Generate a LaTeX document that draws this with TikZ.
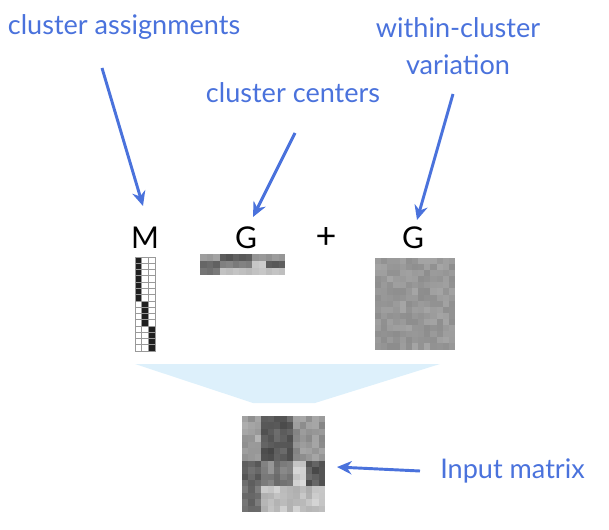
\documentclass[tikz,border=0pt]{standalone}
\usepackage{fontspec}
\setmainfont{Lato}
\usetikzlibrary{arrows.meta}
\definecolor{noteblue}{RGB}{74,114,220}
\definecolor{funnel}{RGB}{221,240,251}
% brightness (in %) of the three cluster centres, column by column
\def\cenA{62,60,64,36,33,38,35,37,58,60,57,61,59}
\def\cenB{40,42,38,50,52,48,51,49,78,80,36,34,37}
\def\cenC{46,44,48,76,74,77,75,73,76,78,74,77,75}
\begin{document}
\begin{tikzpicture}[x=0.75pt,y=-0.75pt]
        \tikzstyle{note}=[text=noteblue, font=\fontsize{20.3}{27.75}\selectfont, inner sep=0pt]
        \tikzstyle{lab}=[font=\fontsize{22.5}{26}\selectfont, inner sep=0pt]
        \tikzstyle{pointer}=[draw=noteblue, line width=2.2pt, -{Stealth[length=11pt,width=10pt]}]
        \tikzstyle{mcell}=[draw=black!40, line width=0.5pt]
            \useasboundingbox (0,0) rectangle (609,530);
            % funnel
            \fill[funnel] (135,364) -- (440,364) -- (315,403) -- (253,403) -- cycle;
            % M : cluster assignments
            \foreach \r in {1,...,15}
                \foreach \c in {1,2,3} {
                    \pgfmathtruncatemacro\k{\r<8 ? 1 : (\r<12 ? 2 : 3)}
                    \ifnum\c=\k \def\mfill{black!88}\else\def\mfill{white}\fi
                    \filldraw[mcell, fill=\mfill] ({135+6.67*(\c-1)},{257+6.27*(\r-1)}) rectangle +(6.67,6.27);
                };
            % G : cluster centres
            \foreach \r/\cen in {1/\cenA,2/\cenB,3/\cenC}
                \foreach \c in {1,...,13} {
                    \pgfmathsetmacro\inv{100-{\cen}[\c-1]}
                    \fill[black!\inv] ({200+6.55*(\c-1)},{254+7*(\r-1)}) rectangle +(6.6,7.05);
                };
            % input matrix and within-cluster variation
            \pgfmathsetseed{42}
            \foreach \r in {1,...,15}
                \foreach \c in {1,...,13} {
                    \ifnum\r<8 \let\crow\cenA \else \ifnum\r<12 \let\crow\cenB \else \let\crow\cenC \fi\fi
                    \pgfmathsetmacro\nz{7*rand}
                    \pgfmathsetmacro\inv{100-{\crow}[\c-1]-\nz}
                    \pgfmathsetmacro\wv{40-0.7*\nz}
                    \fill[black!\inv] ({242+6.4*(\c-1)},{416+6.4*(\r-1)}) rectangle +(6.45,6.45);
                    \fill[black!\wv] ({375+6.15*(\c-1)},{258+6.1*(\r-1)}) rectangle +(6.2,6.15);
                };
            % labels
            \node[lab, anchor=base] (M) at (145,249) {M};
            \node[lab, anchor=base] (Gc) at (246,249) {G};
            \node[lab, anchor=base, font=\fontsize{27}{30}\selectfont] (plus) at (326,249) {+};
            \node[lab, anchor=base] (Gw) at (413,249) {G};
            \node[note, anchor=base] (assign) at (124,35) {cluster assignments};
            \node[note, anchor=base] (centres) at (293,103) {cluster centers};
            \node[note, anchor=north, align=center] (within) at (458,17) {within-cluster\\variation};
            \node[note, anchor=base west] (input) at (440,478) {Input matrix};
            % pointers
            \coordinate (assignS) at (102,68);
            \coordinate (assignE) at (143,206);
            \coordinate (centresS) at (295,133);
            \coordinate (centresE) at (253,217);
            \coordinate (withinS) at (453,94);
            \coordinate (withinE) at (417,220);
            \coordinate (inputS) at (420,471);
            \coordinate (inputE) at (337,467);
            \draw[pointer] (assignS) -- (assignE);
            \draw[pointer] (centresS) -- (centresE);
            \draw[pointer] (withinS) -- (withinE);
            \draw[pointer] (inputS) -- (inputE);
        \end{tikzpicture}
\end{document}
